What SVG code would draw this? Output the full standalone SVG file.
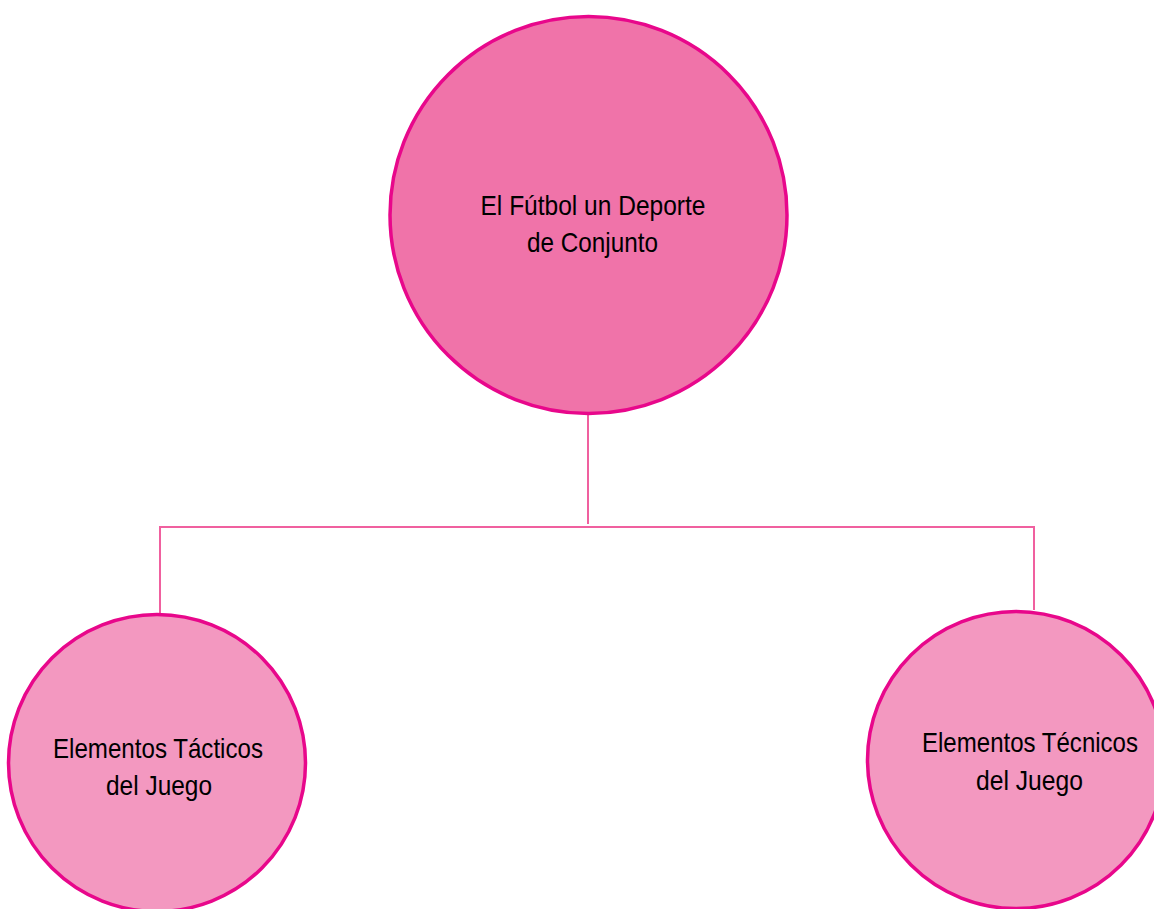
<svg xmlns="http://www.w3.org/2000/svg" width="1154" height="909" viewBox="0 0 1154 909">
<style>
.node{stroke:#e8078b;stroke-width:3.5}
.main{fill:#f073a9}
.sub{fill:#f398c0}
.lbl{font-family:"Liberation Sans",Arial,sans-serif;font-size:28px;fill:#000;text-anchor:middle}
.conn{fill:none;stroke:#f0609f;stroke-width:2}
</style>
<rect width="1154" height="909" fill="#fff"/>
<g id="connectors">
<path class="conn" d="M588 415 V524"/>
<path class="conn" d="M160 613 V527 H1034 V610"/>
</g>
<g id="node-main">
<circle class="node main" cx="588.5" cy="215" r="198.5"/>
<text class="lbl" x="593" y="215" textLength="225" lengthAdjust="spacingAndGlyphs">El Fútbol un Deporte</text>
<text class="lbl" x="592.5" y="252" textLength="131" lengthAdjust="spacingAndGlyphs">de Conjunto</text>
</g>
<g id="node-tacticos">
<circle class="node sub" cx="157" cy="763" r="148.5"/>
<text class="lbl" x="158" y="758" textLength="210" lengthAdjust="spacingAndGlyphs">Elementos Tácticos</text>
<text class="lbl" x="159" y="795" textLength="106" lengthAdjust="spacingAndGlyphs">del Juego</text>
</g>
<g id="node-tecnicos">
<circle class="node sub" cx="1016" cy="760" r="148.5"/>
<text class="lbl" x="1030" y="752" textLength="216" lengthAdjust="spacingAndGlyphs">Elementos Técnicos</text>
<text class="lbl" x="1029.5" y="790" textLength="107" lengthAdjust="spacingAndGlyphs">del Juego</text>
</g>
</svg>
